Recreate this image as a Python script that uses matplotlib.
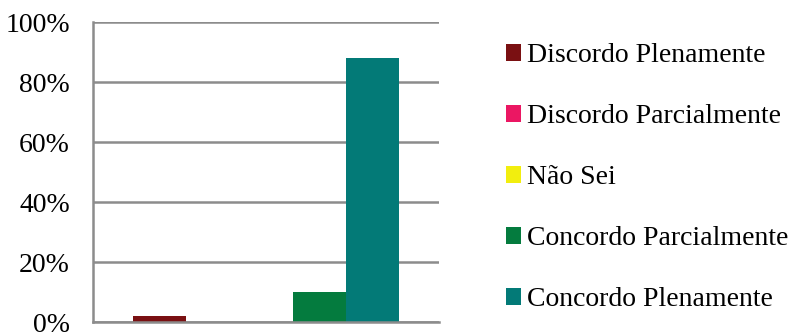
import matplotlib
matplotlib.use("Agg")
import matplotlib.pyplot as plt
from matplotlib.ticker import FuncFormatter

plt.rcParams['font.family'] = ['Liberation Serif', 'DejaVu Serif']

categorias = ['Discordo Plenamente', 'Discordo Parcialmente', 'Não Sei',
              'Concordo Parcialmente', 'Concordo Plenamente']
valores = [0.02, 0.0, 0.0, 0.10, 0.88]
cores = ['#7a1012', '#eb1763', '#f2ee0e', '#047b3e', '#037a77']

fig = plt.figure(figsize=(7.91, 3.32), dpi=100)
ax = fig.add_axes([93/791, 10/332, 346/791, 300/332])

for i, (nome, v, c) in enumerate(zip(categorias, valores, cores)):
    ax.bar(i, v, width=1.0, color=c, label=nome, zorder=3)

ax.set_xlim(-1.26, 5.26)
ax.set_ylim(0, 1.0)
ax.set_yticks([0, 0.2, 0.4, 0.6, 0.8, 1.0])
ax.yaxis.set_major_formatter(FuncFormatter(lambda y, p: f'{y*100:.0f}%'))
ax.set_xticks([])
ax.tick_params(axis='y', length=0, pad=16.5, labelsize=20)
ax.grid(axis='y', color='#8c8c8c', linewidth=1.8, zorder=0)
for s in ['top', 'right']:
    ax.spines[s].set_visible(False)
for s in ['left', 'bottom']:
    ax.spines[s].set_color('#8c8c8c')
    ax.spines[s].set_linewidth(1.8)
ax.spines['bottom'].set_zorder(4)

fig.legend(loc='upper left', bbox_to_anchor=(506/791, 1 - 43/332), frameon=False,
           fontsize=20, handlelength=0.55, handleheight=0.55, handletextpad=0.2,
           labelspacing=1.3, borderaxespad=0, borderpad=0)

fig.savefig('out.png', dpi=100)
